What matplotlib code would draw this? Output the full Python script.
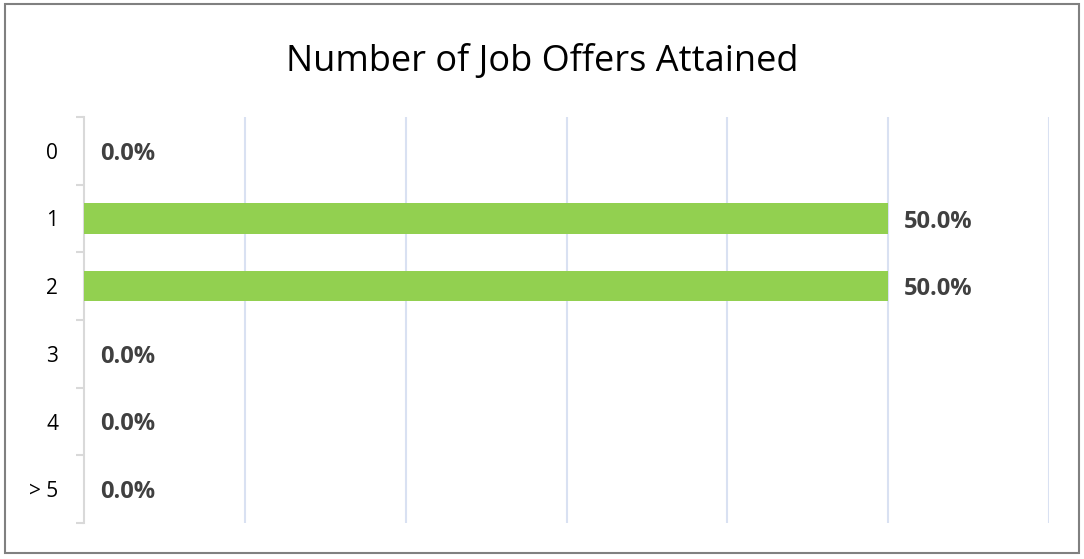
import numpy as np
import matplotlib.pyplot as plt
from matplotlib.patches import Rectangle

categories = ["0", "1", "2", "3", "4", "> 5"]
shares = [0.0, 50.0, 50.0, 0.0, 0.0, 0.0]

fig = plt.figure(figsize=(10.84, 5.59), dpi=100)
fig.patches.append(Rectangle((0.005, 0.01), 0.99, 0.982, transform=fig.transFigure,
                             fill=False, edgecolor="#808080", linewidth=1.5))

ax = fig.add_axes([84 / 1084, 1 - 523 / 559, (1049 - 84) / 1084, (523 - 117) / 559])
y = np.arange(len(categories))
ax.barh(y, shares, height=0.45, color="#92d050", zorder=3)

ax.set_xlim(0, 60)
ax.set_ylim(len(categories) - 0.5, -0.5)
ax.set_xticks(np.arange(10, 61, 10))
ax.xaxis.grid(True, color="#d9e1f2", linewidth=1.5)
ax.tick_params(axis="x", length=0, labelbottom=False)

ax.set_yticks(y)
ax.set_yticklabels(categories, fontsize=15, color="#000000", family="Open Sans")
ax.set_yticks(np.arange(-0.5, len(categories)), minor=True)
ax.tick_params(axis="y", which="major", length=0, pad=18.5)
ax.tick_params(axis="y", which="minor", length=6, color="#d9d9d9", width=1.5)

for s in ["top", "right", "bottom"]:
    ax.spines[s].set_visible(False)
ax.spines["left"].set_color("#d9d9d9")
ax.spines["left"].set_linewidth(1.5)

for yi, v in zip(y, shares):
    ax.text(v + 1.0, yi, f"{v:.1f}%", va="center_baseline", ha="left", fontsize=17,
            fontweight="bold", color="#404040", family="Open Sans")

fig.text(0.5, 1 - 57 / 559, "Number of Job Offers Attained", ha="center",
         va="center_baseline", fontsize=26, color="#000000", family="Open Sans")

fig.savefig("out.png", dpi=100)
